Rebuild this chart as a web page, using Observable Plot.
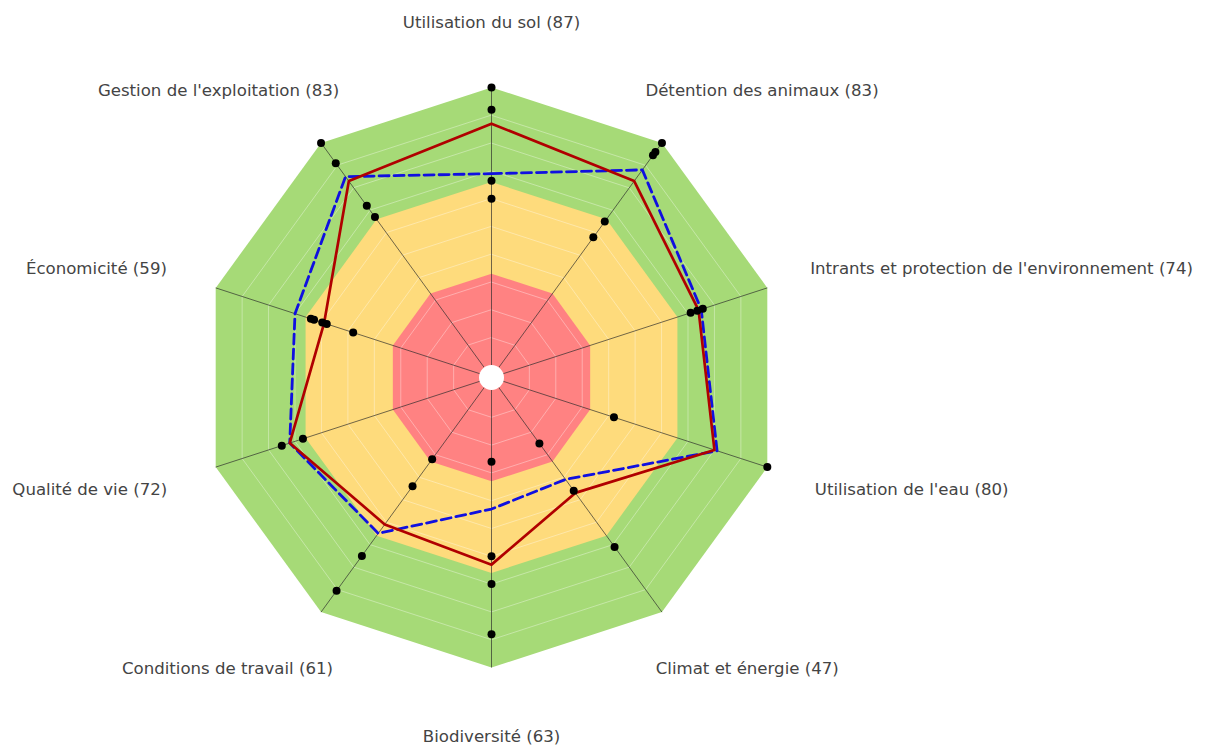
<!DOCTYPE html>
<html>
<head>
<meta charset="utf-8">
<script src="https://cdn.jsdelivr.net/npm/d3@7"></script>
<script src="https://cdn.jsdelivr.net/npm/@observablehq/plot@0.6"></script>
<style>
  html, body { margin: 0; padding: 0; background: #fff; }
  #chart { width: 1205px; height: 745px; }
</style>
</head>
<body>
<div id="chart"></div>
<script>
// ---- data ----
const axes = [
  "Utilisation du sol",
  "Détention des animaux",
  "Intrants et protection de l'environnement",
  "Utilisation de l'eau",
  "Climat et énergie",
  "Biodiversité",
  "Conditions de travail",
  "Qualité de vie",
  "Économicité",
  "Gestion de l'exploitation"
];
const farmScores = [87, 83, 74, 80, 47, 63, 61, 72, 59, 83];
const comparisonScores = [69, 88, 75, 81, 41, 43, 65, 72, 70, 85];
const otherScores = [
  [100, 92, 66.5, 60],
  [100, 96, 94.5, 65, 58],
  [71, 73.5, 75.6],
  [42, 100],
  [25, 46, 71],
  [26, 60, 70, 88],
  [32, 44, 75, 90.5],
  [75, 67],
  [64, 62.8, 59.7, 58, 48],
  [100, 91, 72, 67]
];
const zoneLimits = [100, 66, 33];
const zoneColors = ["#a6da77", "#fedb7c", "#ff8282"];
const gridValues = [10, 20, 30, 40, 50, 60, 70, 80, 90];

// ---- geometry ----
const r = d3.scaleLinear([0, 100], [12, 290]);
const n = axes.length;
const ang = i => i * 2 * Math.PI / n;
const px = (i, v) => r(v) * Math.sin(ang(i));
const py = (i, v) => r(v) * Math.cos(ang(i));
const idx = d3.range(n);

const ring = v => idx.map(i => ({i, v}));
const fontSize = 16.6;
const ctx = document.createElement("canvas").getContext("2d");
ctx.font = `${fontSize}px 'DejaVu Sans'`;
const labelR = 357;
const labels = idx.map(i => {
  const s = Math.sin(ang(i)), c = Math.cos(ang(i));
  const text = `${axes[i]} (${farmScores[i]})`;
  const w = ctx.measureText(text).width;
  const anchor = Math.abs(s) < 0.1 ? "middle" : (s > 0 ? "start" : "end");
  const shift = (2 + 10 * Math.abs(s)) + (1 - Math.abs(s)) / 2 * w;
  let x = labelR * s;
  if (anchor === "start") x -= shift;
  if (anchor === "end") x += shift;
  return {text, anchor, x, y: labelR * c - 2};
});
const dots = otherScores.flatMap((arr, i) => arr.map(v => ({i, v})));

const chart = Plot.plot({
  width: 1205,
  height: 745,
  margin: 0,
  x: {domain: [-491, 714], axis: null},
  y: {domain: [-368, 377], axis: null},
  style: {background: "#fff", fontFamily: "'DejaVu Sans', sans-serif"},
  marks: [
    ...zoneLimits.map((lim, k) => Plot.line(ring(lim), {
      x: d => px(d.i, d.v), y: d => py(d.i, d.v),
      curve: "linear-closed", fill: zoneColors[k], stroke: "none"
    })),
    ...gridValues.map(g => Plot.line(ring(g), {
      x: d => px(d.i, d.v), y: d => py(d.i, d.v),
      curve: "linear-closed", stroke: "#fff", strokeOpacity: 0.35, strokeWidth: 1
    })),
    Plot.link(idx, {
      x1: i => px(i, 0), y1: i => py(i, 0),
      x2: i => px(i, 100), y2: i => py(i, 100),
      stroke: "#2a2a2a", strokeOpacity: 0.75, strokeWidth: 0.9
    }),
    Plot.dot([0], {x: () => 0, y: () => 0, r: 12.5, fill: "#fff", stroke: "none"}),
    Plot.line(idx, {
      x: i => px(i, comparisonScores[i]), y: i => py(i, comparisonScores[i]),
      curve: "linear-closed", stroke: "#1010e0", strokeWidth: 2.8, strokeDasharray: "10,5"
    }),
    Plot.line(idx, {
      x: i => px(i, farmScores[i]), y: i => py(i, farmScores[i]),
      curve: "linear-closed", stroke: "#b00000", strokeWidth: 2.7
    }),
    Plot.dot(dots, {
      x: d => px(d.i, d.v), y: d => py(d.i, d.v), r: 4, fill: "#000", stroke: "none"
    }),
    ...["start", "middle", "end"].map(a => Plot.text(labels.filter(l => l.anchor === a), {
      x: "x", y: "y", text: "text", textAnchor: a, lineAnchor: "middle",
      fontSize, fill: "#444"
    }))
  ]
});
document.getElementById("chart").append(chart);
</script>
</body>
</html>
